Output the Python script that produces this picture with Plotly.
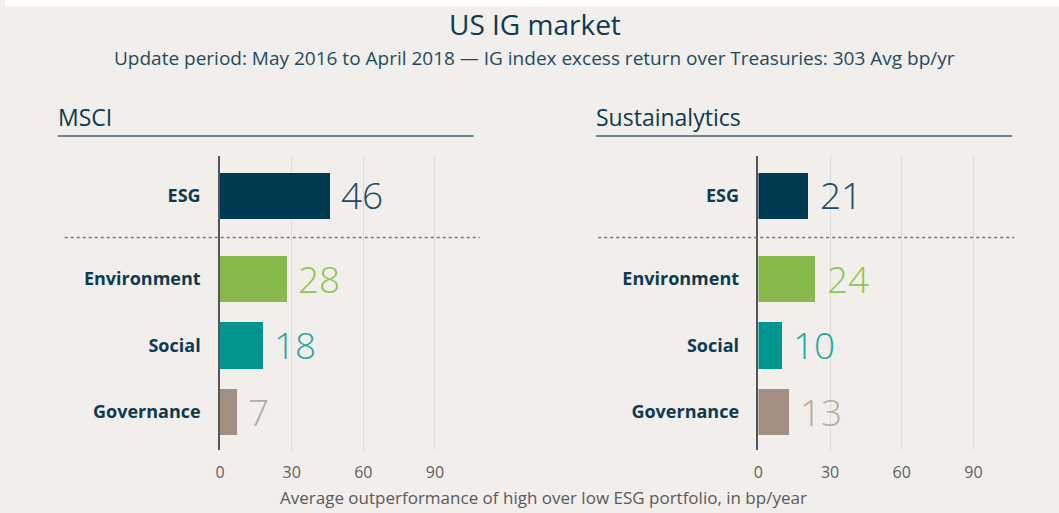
import plotly.graph_objects as go
from plotly.subplots import make_subplots

# ---- data ----
categories = ["ESG", "Environment", "Social", "Governance"]
msci_values = [46, 28, 18, 7]
sustainalytics_values = [21, 24, 10, 13]
panel_names = ["MSCI", "Sustainalytics"]
x_ticks = [0, 30, 60, 90]
title_text = "US IG market"
subtitle_text = "Update period: May 2016 to April 2018 \u2014 IG index excess return over Treasuries: 303 Avg bp/yr"
axis_title_text = "Average outperformance of high over low ESG portfolio, in bp/year"

# ---- style ----
bar_colors = ["#003a52", "#86b94a", "#00958f", "#a38f82"]
label_colors = ["#1d4b63", "#8cc653", "#1ba8a2", "#b7a99d"]
row_pos = [0, 1.25, 2.25, 3.25]   # layout: vertical slot of each category
BG = "#f1eeeb"
NAVY = "#0d3a52"
FONT = "Open Sans"

W, H = 1059, 513
TOP, BOT = 156, 450


def px_x(p):
    return p / W


def px_y(p):
    return (BOT - p) / (BOT - TOP)


fig = make_subplots(rows=1, cols=2)
xdomains = [[px_x(216), px_x(470)], [px_x(757), px_x(1011)]]
xr = [0, (470 - 216) / 2.4]

for i, vals in enumerate([msci_values, sustainalytics_values]):
    fig.add_trace(go.Bar(
        x=vals, y=row_pos, orientation="h", width=0.7,
        marker=dict(color=bar_colors, line=dict(width=0)),
        showlegend=False, hoverinfo="skip"), row=1, col=i + 1)
    xa = "x" if i == 0 else "x2"
    ya = "y" if i == 0 else "y2"
    for v, y, c in zip(vals, row_pos, label_colors):
        fig.add_annotation(x=v, y=y, xref=xa, yref=ya, text=str(v),
                           showarrow=False, xanchor="left", yanchor="middle",
                           xshift=9, yshift=1,
                           font=dict(family=FONT, size=37, color=c, weight=300))

axis_common = dict(range=xr, tickvals=x_ticks, showgrid=True, gridcolor="#dedbd8",
                   gridwidth=1, zeroline=False, showline=False,
                   ticks="outside", ticklen=8, tickcolor="rgba(0,0,0,0)",
                   tickfont=dict(family=FONT, size=16, color="#5f5f5f"), fixedrange=True)
yaxis_common = dict(range=[3.82, -0.60], tickvals=row_pos, ticktext=categories,
                    showgrid=False, zeroline=False, showline=True, linecolor="#555555",
                    linewidth=1.5, ticks="outside", ticklen=14, tickcolor="rgba(0,0,0,0)",
                    tickfont=dict(family=FONT, size=18, color=NAVY, weight="bold"),
                    fixedrange=True)

fig.update_layout(
    xaxis=dict(domain=xdomains[0], **axis_common),
    xaxis2=dict(domain=xdomains[1], **axis_common),
    yaxis=dict(domain=[0, 1], **yaxis_common),
    yaxis2=dict(domain=[0, 1], **yaxis_common),
)

# titles
fig.add_annotation(x=px_x(533), y=px_y(24), xref="paper", yref="paper", text=title_text,
                   showarrow=False, xanchor="center", yanchor="middle",
                   font=dict(family=FONT, size=28, color=NAVY))
fig.add_annotation(x=px_x(532), y=px_y(58), xref="paper", yref="paper", text=subtitle_text,
                   showarrow=False, xanchor="center", yanchor="middle",
                   font=dict(family=FONT, size=19, color="#1d4b63"))
for name, x0 in zip(panel_names, [53, 594]):
    fig.add_annotation(x=px_x(x0 - 2), y=px_y(117), xref="paper", yref="paper", text=name,
                       showarrow=False, xanchor="left", yanchor="middle",
                       font=dict(family=FONT, size=23, color=NAVY))
    fig.add_shape(type="line", xref="paper", yref="paper",
                  x0=px_x(x0), x1=px_x(x0 + 418), y0=px_y(136), y1=px_y(136),
                  line=dict(color="#3d6272", width=1.5))

# dotted separators between ESG and pillars
for x0, x1, ya in [(60, 477, "y"), (596, 1014, "y2")]:
    ymid = (row_pos[0] + row_pos[1]) / 2
    fig.add_shape(type="line", xref="paper", yref=ya, x0=px_x(x0), x1=px_x(x1),
                  y0=ymid, y1=ymid, line=dict(color="#777777", width=1.5, dash="dot"))

fig.add_annotation(x=px_x(541), y=px_y(497), xref="paper", yref="paper", text=axis_title_text,
                   showarrow=False, xanchor="center", yanchor="middle",
                   font=dict(family=FONT, size=17, color="#5a5a5a"))

# white top strip
fig.add_shape(type="rect", xref="paper", yref="paper", x0=0, x1=1, y0=px_y(6), y1=px_y(-2),
              fillcolor="white", line=dict(width=0), layer="below")

fig.update_layout(
    width=W, height=H, autosize=False,
    margin=dict(l=0, r=0, t=TOP, b=H - BOT),
    paper_bgcolor=BG, plot_bgcolor=BG,
    bargap=0, showlegend=False,
)

fig.write_html("out.html", config={"displayModeBar": False},
               post_script="document.body.style.margin='0';document.body.style.overflow='hidden';")
